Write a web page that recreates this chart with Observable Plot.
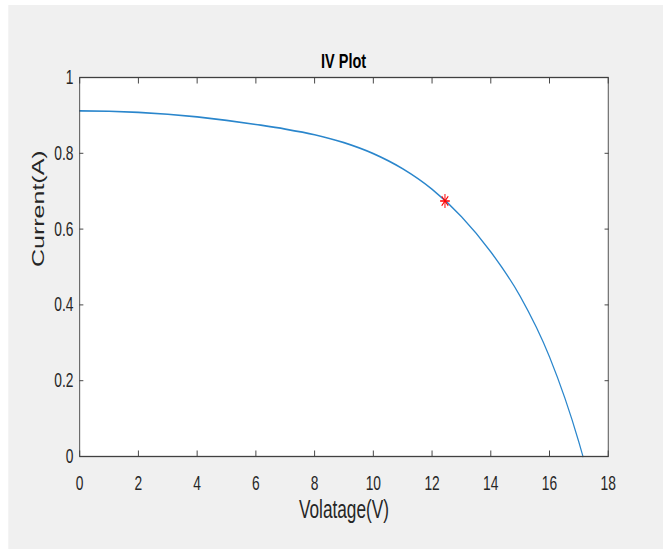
<!DOCTYPE html>
<html>
<head>
<meta charset="utf-8">
<script src="https://cdn.jsdelivr.net/npm/d3@7"></script>
<script src="https://cdn.jsdelivr.net/npm/@observablehq/plot@0.6"></script>
<style>
  html, body { margin: 0; padding: 0; background: #ffffff; overflow: hidden; }
  #fig {
    position: absolute; left: 0; top: 0; width: 961px; height: 549px;
    transform: scaleX(0.69); transform-origin: 0 0;
    font-family: "Liberation Sans", Arial, Helvetica, sans-serif;
  }
  #bg { position: absolute; left: 11.6px; top: 5px; right: 0; bottom: 0; background: #f0f0f0; }
  #title {
    position: absolute; left: 115px; width: 766px; top: 50px;
    text-align: center; font-weight: bold; font-size: 21px; line-height: 21px; color: #000;
  }
  #chart { position: absolute; left: 0; top: 72px; }
</style>
</head>
<body>
<div id="fig">
  <div id="bg"></div>
  <div id="title"></div>
  <div id="chart"></div>
</div>
<script>
// ---- data ----
const titleText = "IV Plot";
const xLabel = "Volatage(V)";
const yLabel = "Current(A)";
const xTicks = [0, 2, 4, 6, 8, 10, 12, 14, 16, 18];
const yTicks = [0, 0.2, 0.4, 0.6, 0.8, 1];
const voltage = [0, 1, 2, 3, 4, 5, 6, 7, 8, 9, 10, 11, 12, 13, 14, 15, 16, 17, 17.14];
const current = [0.912, 0.911, 0.908, 0.903, 0.896, 0.887, 0.876, 0.864, 0.849, 0.828, 0.799, 0.759, 0.705, 0.633, 0.540, 0.423, 0.263, 0.038, 0];
const mppVoltage = [12.44];
const mppCurrent = [0.674];

const ivData = voltage.map((v, k) => ({v, i: current[k]}));
const mppData = mppVoltage.map((v, k) => ({v, i: mppCurrent[k]}));

document.getElementById("title").textContent = titleText;

const axisColor = "#262626";
const chart = Plot.plot({
  width: 961,
  height: 473,
  marginLeft: 115,
  marginRight: 80,
  marginTop: 5,
  marginBottom: 89,
  style: {
    background: "transparent",
    fontFamily: "'Liberation Sans', Arial, Helvetica, sans-serif",
    fontSize: "20px",
    color: axisColor,
    overflow: "visible"
  },
  x: {domain: [0, 18], axis: null},
  y: {domain: [0, 1], axis: null},
  marks: [
    Plot.frame({fill: "white", stroke: "none"}),
    Plot.line(ivData, {x: "v", y: "i", stroke: "#2a86cc", strokeWidth: 1.7, curve: "monotone-x"}),
    Plot.dot(mppData, {x: "v", y: "i", symbol: "plus", r: 4.6, stroke: "red", strokeWidth: 1.4, fill: "none"}),
    Plot.dot(mppData, {x: "v", y: "i", symbol: "times", r: 4.4, stroke: "red", strokeWidth: 1.4, fill: "none"}),
    // tick labels
    Plot.axisX(xTicks, {anchor: "bottom", tickSize: 0, tickPadding: 19, label: null, tickFormat: d => String(d)}),
    Plot.axisY(yTicks, {anchor: "left", tickSize: 0, tickPadding: 9, label: null, tickFormat: d => String(d)}),
    // inward tick marks on all four sides
    Plot.axisX(xTicks, {anchor: "bottom", tickSize: -5.5, label: null, tickFormat: () => ""}),
    Plot.axisX(xTicks, {anchor: "top", tickSize: -5.5, label: null, tickFormat: () => ""}),
    Plot.axisY(yTicks, {anchor: "left", tickSize: -5.8, label: null, tickFormat: () => ""}),
    Plot.axisY(yTicks, {anchor: "right", tickSize: -5.8, label: null, tickFormat: () => ""}),
    Plot.frame({stroke: "#404040", strokeWidth: 1.3, fill: "none"}),
    // axis titles
    Plot.text([xLabel], {frameAnchor: "bottom", dy: 61, fontSize: 25, fill: axisColor}),
    Plot.text([yLabel], {frameAnchor: "left", dx: -60, rotate: -90, fontSize: 25, fill: axisColor})
  ]
});
document.getElementById("chart").appendChild(chart);
</script>
</body>
</html>
